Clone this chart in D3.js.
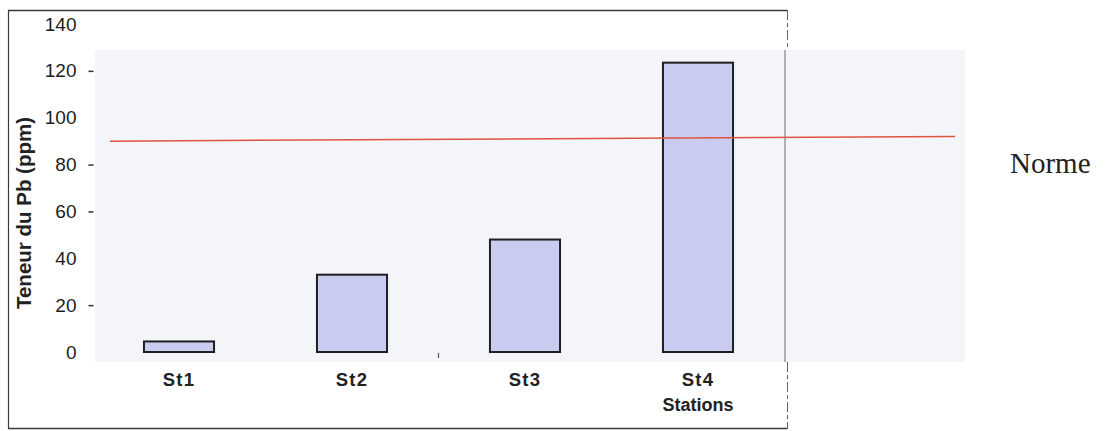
<!DOCTYPE html>
<html>
<head>
<meta charset="utf-8">
<script src="https://cdn.jsdelivr.net/npm/d3@7"></script>
<style>
  html, body { margin: 0; padding: 0; background: #ffffff; }
  svg { display: block; }
</style>
</head>
<body>
<svg id="chart" width="1107" height="431"></svg>
<script>
// Lead content per station (ppm)
const stations = ["St1", "St2", "St3", "St4"];
const leadValues = [4.5, 33, 48, 123.5];

// Y-axis tick labels and the ticks that carry a small dash
const yTicks = [0, 20, 40, 60, 80, 100, 120, 140];
const yDashTicks = [20, 60, 80, 120];

// Regulatory limit line: level at its left and right ends
const normeLevels = [90, 92];
const normeLabel = "Norme";

const axisTitle = "Teneur du Pb (ppm)";
const xAxisTitle = "Stations";

const svg = d3.select("#chart");
const sans = "Liberation Sans, Arial, sans-serif";

const plot = { left: 92.5, right: 784.5, top: 24, bottom: 352 };

const y = d3.scaleLinear().domain([0, 140]).range([plot.bottom, plot.top]);
const x = d3.scaleBand()
  .domain(stations)
  .range([plot.left, plot.right])
  .paddingInner(0.595)
  .paddingOuter(0.2975);

// Outer frame
const frame = svg.append("g").attr("stroke", "#3a3a3a").attr("fill", "none");
frame.append("line").attr("x1", 8).attr("x2", 787).attr("y1", 10.5).attr("y2", 10.5).attr("stroke-width", 1.5);
frame.append("line").attr("x1", 8).attr("x2", 787).attr("y1", 428.5).attr("y2", 428.5).attr("stroke-width", 1.5);
frame.append("line").attr("x1", 8.5).attr("x2", 8.5).attr("y1", 10).attr("y2", 429).attr("stroke-width", 1.2);
frame.append("line").attr("x1", 787.5).attr("x2", 787.5).attr("y1", 10).attr("y2", 50)
  .attr("stroke-width", 1).attr("stroke-dasharray", "10,3,4,3").attr("stroke", "#666");
frame.append("line").attr("x1", 787.5).attr("x2", 787.5).attr("y1", 362).attr("y2", 429)
  .attr("stroke-width", 1).attr("stroke-dasharray", "10,3,4,3").attr("stroke", "#666");

// Light background panel
svg.append("rect")
  .attr("x", 95).attr("y", 50).attr("width", 870).attr("height", 312)
  .attr("fill", "#f3f5f9");

// Right edge of the plot area
svg.append("line")
  .attr("x1", plot.right + 0.5).attr("x2", plot.right + 0.5)
  .attr("y1", 50).attr("y2", 362)
  .attr("stroke", "#8a8a8a").attr("stroke-width", 1.3);

// Y axis labels
const yAxis = svg.append("g")
  .attr("transform", `translate(${plot.left},0)`)
  .call(d3.axisLeft(y).tickValues(yTicks).tickSize(0).tickPadding(16));
yAxis.select(".domain").remove();
yAxis.selectAll("text")
  .attr("font-family", sans)
  .attr("font-size", 19)
  .attr("fill", "#1c1c1c");

// Small dashes next to some labels
const yDash = svg.append("g")
  .attr("transform", `translate(${plot.left + 1},0)`)
  .call(d3.axisLeft(y).tickValues(yDashTicks).tickSize(5).tickFormat(""));
yDash.select(".domain").remove();
yDash.selectAll("line").attr("stroke", "#333").attr("stroke-width", 1.5);

// Y axis title
svg.append("text")
  .attr("transform", "translate(31,213) rotate(-90)")
  .attr("text-anchor", "middle")
  .attr("font-family", sans)
  .attr("font-weight", "bold")
  .attr("font-size", 20.5)
  .attr("fill", "#222")
  .text(axisTitle);

// Bars
svg.append("g").selectAll("rect")
  .data(stations.map((s, i) => ({ s, v: leadValues[i] })))
  .join("rect")
  .attr("x", d => x(d.s))
  .attr("width", x.bandwidth())
  .attr("y", d => y(d.v))
  .attr("height", d => y(0) - y(d.v))
  .attr("fill", "#c9ccf0")
  .attr("stroke", "#1e1e1e")
  .attr("stroke-width", 2);

// Category divider tick between St2 and St3
const midTick = (x("St2") + x.bandwidth() + x("St3")) / 2;
svg.append("line")
  .attr("x1", midTick).attr("x2", midTick)
  .attr("y1", y(0) + 1).attr("y2", y(0) + 6)
  .attr("stroke", "#555").attr("stroke-width", 1.2);

// X axis labels
const xAxis = svg.append("g")
  .attr("transform", `translate(0,${plot.bottom})`)
  .call(d3.axisBottom(x).tickSize(0).tickPadding(21));
xAxis.select(".domain").remove();
xAxis.selectAll("text")
  .attr("font-family", sans)
  .attr("font-weight", "bold")
  .attr("font-size", 18.5)
  .attr("letter-spacing", 1.2)
  .attr("fill", "#222");

svg.append("text")
  .attr("x", x("St4") + x.bandwidth() / 2)
  .attr("y", 411)
  .attr("text-anchor", "middle")
  .attr("font-family", sans)
  .attr("font-weight", "bold")
  .attr("font-size", 18)
  .attr("fill", "#222")
  .text(xAxisTitle);

// Limit line
const normeX = [110, 955];
svg.append("line")
  .attr("x1", normeX[0]).attr("x2", normeX[1])
  .attr("y1", y(normeLevels[0])).attr("y2", y(normeLevels[1]))
  .attr("stroke", "#e0533e").attr("stroke-width", 1.5);

svg.append("text")
  .attr("x", 1010)
  .attr("y", 173)
  .attr("font-family", "Liberation Serif, Times New Roman, serif")
  .attr("font-size", 29)
  .attr("fill", "#222")
  .text(normeLabel);
</script>
</body>
</html>
